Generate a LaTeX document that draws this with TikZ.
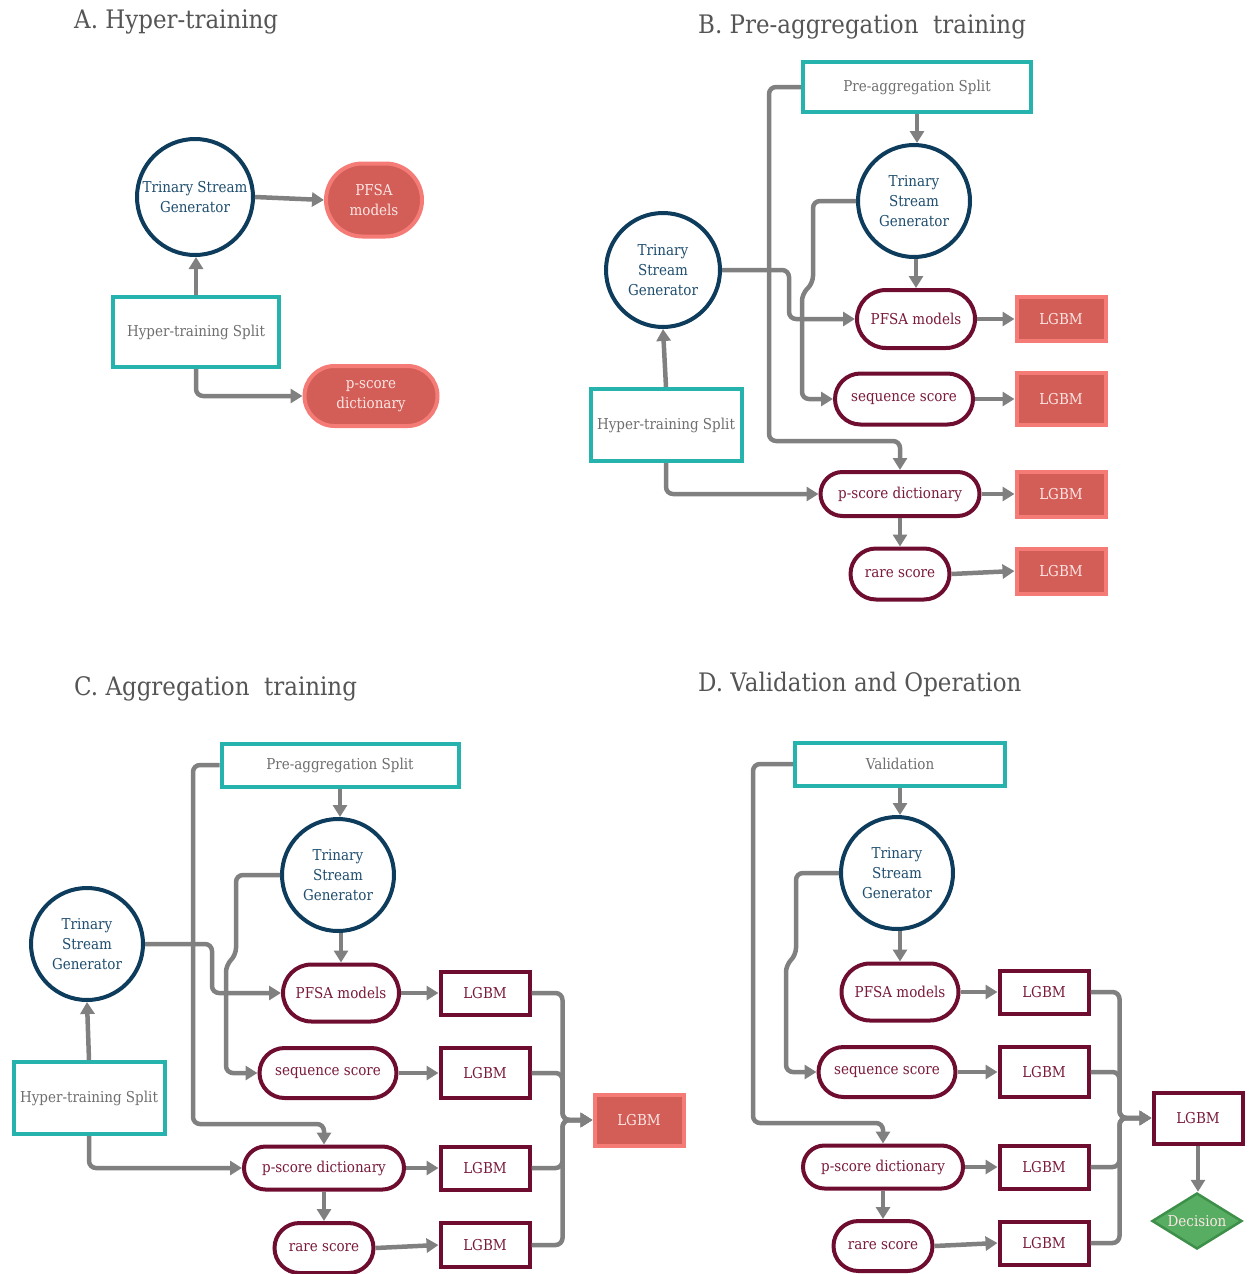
\documentclass[tikz,border=0pt]{standalone}
\usepackage{fontspec}
\setmainfont{DejaVu Serif}[FakeStretch=0.9]
\usetikzlibrary{arrows.meta,shapes.misc,shapes.geometric,calc}
\definecolor{tsgblue}{HTML}{0D3C5C}
\definecolor{tsgtext}{HTML}{1E4D6E}
\definecolor{tealc}{HTML}{26B3AD}
\definecolor{splittext}{HTML}{6E6E6E}
\definecolor{pillred}{HTML}{6E0D2F}
\definecolor{pilltext}{HTML}{7A1A3B}
\definecolor{redfill}{HTML}{D35D57}
\definecolor{redline}{HTML}{F47B76}
\definecolor{redtext}{HTML}{FBE6E4}
\definecolor{arrowgray}{HTML}{808080}
\definecolor{titlegray}{HTML}{555555}
\definecolor{decfill}{HTML}{57AE63}
\definecolor{decline}{HTML}{3D8F4A}
\newcommand{\nodefnt}{\fontsize{15}{20}\selectfont}
\newcommand{\titlefnt}{\fontsize{25.5}{30}\selectfont}
\tikzset{
  base/.style={font=\nodefnt, align=center, inner sep=1pt},
  tsg/.style={base, circle, draw=tsgblue, line width=4pt, fill=white, minimum size=112pt, text=tsgtext},
  splitbox/.style={base, rectangle, draw=tealc, line width=4pt, fill=white, text=splittext},
  pill/.style={base, rounded rectangle, draw=pillred, line width=4pt, fill=white, text=pilltext},
  redpill/.style={base, rounded rectangle, draw=redline, fill=redfill, line width=4pt, text=redtext},
  redbox/.style={base, rectangle, draw=redline, fill=redfill, line width=4pt, text=redtext, minimum width=89pt},
  lgbm/.style={base, rectangle, draw=pillred, line width=4pt, fill=white, text=pilltext, minimum width=89pt},
  decision/.style={base, diamond, aspect=1.6, draw=decline, fill=decfill, line width=2.5pt, text=redtext, minimum width=90pt, minimum height=56pt, inner sep=0pt},
  conn/.style={draw=arrowgray, line width=4.5pt, -{Triangle[length=12pt,width=14pt]}, rounded corners=7pt},
  ttl/.style={font=\titlefnt, text=titlegray, anchor=west, inner sep=0pt}
}
\begin{document}
\begin{tikzpicture}[x=1pt,y=-1pt]
\useasboundingbox (0,0) rectangle (1248,1274);
% ---------- titles
\node[ttl] (tA) at (74,22) {A. Hyper-training};
\node[ttl] (tB) at (698,27) {B. Pre-aggregation\ \ training};
\node[ttl] (tC) at (74,689) {C. Aggregation\ \ training};
\node[ttl] (tD) at (698,684) {D. Validation and Operation};
% ---------- Panel A
\node[tsg, minimum size=116pt] (tsgA) at (195,197) {Trinary Stream\\Generator};
\node[redpill, minimum width=98pt, minimum height=73pt] (pfsaA) at (374,200) {PFSA\\models};
\node[splitbox, minimum width=166pt, minimum height=70pt] (hsA) at (196,332) {Hyper-training Split};
\node[redpill, minimum width=135pt, minimum height=60pt] (psA) at (371,396) {p-score\\dictionary};
\draw[conn] (hsA.north) -- (hsA.north |- tsgA.south);
\draw[conn] (tsgA.east) -- (pfsaA.west);
\draw[conn] (hsA.south) |- (psA.west);
% ---------- Panel B
\node[splitbox, minimum width=228pt, minimum height=50pt] (preB) at (917,87) {Pre-aggregation Split};
\node[tsg] (tsgB) at (914,201) {Trinary\\Stream\\Generator};
\node[tsg, minimum size=114pt] (tsgLB) at (663,270) {Trinary\\Stream\\Generator};
\node[pill, minimum width=120pt, minimum height=58pt] (pfsaB) at (916,319) {PFSA models};
\node[pill, minimum width=140pt, minimum height=51pt] (seqB) at (904,399) {sequence score};
\node[pill, minimum width=161pt, minimum height=44pt] (psB) at (900,494) {p-score dictionary};
\node[pill, minimum width=101pt, minimum height=51pt] (rareB) at (900,574) {rare score};
\node[redbox, minimum height=44pt] (lB1) at (1061,319) {LGBM};
\node[redbox, minimum height=52pt] (lB2) at (1061,399) {LGBM};
\node[redbox, minimum height=45pt] (lB3) at (1061,494) {LGBM};
\node[redbox, minimum height=45pt] (lB4) at (1061,571) {LGBM};
\node[splitbox, minimum width=151pt, minimum height=72pt] (hsB) at (666,425) {Hyper-training Split};
\draw[conn] (preB.south) -- (preB.south |- tsgB.north);
\draw[conn] (tsgB.south -| pfsaB.north) -- (pfsaB.north);
\draw[conn] (preB.west) -| (769,441) -| (psB.north);
\draw[conn] (tsgB.west) -| (813,283) -- (802,294) |- (seqB.west);
\draw[conn] (tsgLB.east) -- (789,270) |- (pfsaB.west);
\draw[conn] (hsB.north) -- (tsgLB.south);
\draw[conn] (hsB.south) |- (psB.west);
\draw[conn] (psB.south) -- (rareB.north);
\draw[conn] (pfsaB.east) -- (lB1.west);
\draw[conn] (seqB.east) -- (lB2.west);
\draw[conn] (psB.east) -- (lB3.west);
\draw[conn] (rareB.east) -- (lB4.west);
% ---------- Panel C
\node[splitbox, minimum width=237pt, minimum height=43pt] (preC) at (340,765) {Pre-aggregation Split};
\node[tsg] (tsgC) at (338,875) {Trinary\\Stream\\Generator};
\node[tsg] (tsgLC) at (87,944) {Trinary\\Stream\\Generator};
\node[pill, minimum width=118pt, minimum height=57pt] (pfsaC) at (341,993) {PFSA models};
\node[pill, minimum width=139pt, minimum height=50pt] (seqC) at (328,1073) {sequence score};
\node[pill, minimum width=162pt, minimum height=43pt] (psC) at (324,1168) {p-score dictionary};
\node[pill, minimum width=101pt, minimum height=50pt] (rareC) at (324,1248) {rare score};
\node[lgbm, minimum height=43pt] (lC1) at (485,993) {LGBM};
\node[lgbm, minimum height=50pt] (lC2) at (485,1073) {LGBM};
\node[lgbm, minimum height=43pt] (lC3) at (485,1168) {LGBM};
\node[lgbm, minimum height=44pt] (lC4) at (485,1245) {LGBM};
\node[redbox, minimum height=51pt] (bigC) at (639,1120) {LGBM};
\node[splitbox, minimum width=151pt, minimum height=72pt] (hsC) at (89,1098) {Hyper-training Split};
\draw[conn] (preC.south) -- (preC.south |- tsgC.north);
\draw[conn] (tsgC.south -| pfsaC.north) -- (pfsaC.north);
\draw[conn] (preC.west) -| (193,1124) -| (psC.north);
\draw[conn] (tsgC.west) -| (236,955) -- (226,965) |- (seqC.west);
\draw[conn] (tsgLC.east) -- (212,944) |- (pfsaC.west);
\draw[conn] (hsC.north) -- (tsgLC.south);
\draw[conn] (hsC.south) |- (psC.west);
\draw[conn] (psC.south) -- (rareC.north);
\draw[conn] (pfsaC.east) -- (lC1.west);
\draw[conn] (seqC.east) -- (lC2.west);
\draw[conn] (psC.east) -- (lC3.west);
\draw[conn] (rareC.east) -- (lC4.west);
\foreach \n in {lC1,lC2,lC3,lC4}
  \draw[conn] (\n.east) -| ($(bigC.west)+(-30,0)$) -- (bigC.west);
% ---------- Panel D
\node[splitbox, minimum width=210pt, minimum height=43pt] (valD) at (900,764) {Validation};
\node[tsg] (tsgD) at (897,873) {Trinary\\Stream\\Generator};
\node[pill, minimum width=119pt, minimum height=57pt] (pfsaD) at (900,992) {PFSA models};
\node[pill, minimum width=139pt, minimum height=50pt] (seqD) at (887,1072) {sequence score};
\node[pill, minimum width=162pt, minimum height=43pt] (psD) at (883,1167) {p-score dictionary};
\node[pill, minimum width=101pt, minimum height=50pt] (rareD) at (883,1246) {rare score};
\node[lgbm, minimum height=43pt] (lD1) at (1044,992) {LGBM};
\node[lgbm, minimum height=50pt] (lD2) at (1044,1072) {LGBM};
\node[lgbm, minimum height=43pt] (lD3) at (1044,1167) {LGBM};
\node[lgbm, minimum height=43pt] (lD4) at (1044,1243) {LGBM};
\node[lgbm, minimum height=51pt] (finD) at (1198,1118) {LGBM};
\node[decision] (decD) at (1197,1221) {Decision};
\draw[conn] (valD.south) -- (valD.south |- tsgD.north);
\draw[conn] (tsgD.south -| pfsaD.north) -- (pfsaD.north);
\draw[conn] (valD.west) -| (753,1123) -| (psD.north);
\draw[conn] (tsgD.west) -| (796,955) -- (786,965) |- (seqD.west);
\draw[conn] (psD.south) -- (rareD.north);
\draw[conn] (pfsaD.east) -- (lD1.west);
\draw[conn] (seqD.east) -- (lD2.west);
\draw[conn] (psD.east) -- (lD3.west);
\draw[conn] (rareD.east) -- (lD4.west);
\foreach \n in {lD1,lD2,lD3,lD4}
  \draw[conn] (\n.east) -| ($(finD.west)+(-32,0)$) -- (finD.west);
\draw[conn] (finD.south) -- (finD.south |- decD.north);
\end{tikzpicture}
\end{document}
